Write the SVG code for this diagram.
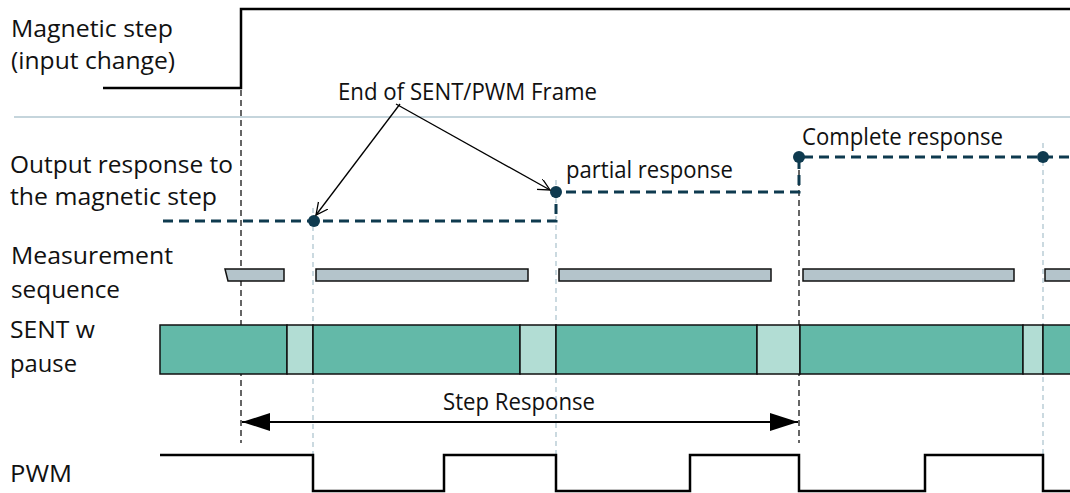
<svg xmlns="http://www.w3.org/2000/svg" width="1070" height="493" viewBox="0 0 1070 493">
<style>
text{font-family:"Open Sans","Liberation Sans",sans-serif;font-size:23px;fill:#111;}
.sig{fill:none;stroke:#000;stroke-width:2.5;}
.resp{fill:none;stroke:#0e3a4f;stroke-width:3;stroke-dasharray:10,6;}
.dot{fill:#0e3a4f;}
.guide{fill:none;stroke:#a9c1cc;stroke-width:1.2;stroke-dasharray:5,4;}
.bguide{fill:none;stroke:#333;stroke-width:1.5;stroke-dasharray:6,4;}
.meas{fill:#b4c4cb;stroke:#111;stroke-width:1.5;}
.sent{fill:#63b9a8;stroke:#111;stroke-width:1.5;}
.pause{fill:#b2ddd4;stroke:#111;stroke-width:1.5;}
</style>
<defs>
<marker id="open" markerUnits="userSpaceOnUse" markerWidth="14" markerHeight="14" refX="12" refY="6" orient="auto">
<path d="M0,0 L12,6 L0,12" fill="none" stroke="#000" stroke-width="1.3"/>
</marker>
<marker id="solid" markerUnits="userSpaceOnUse" markerWidth="30" markerHeight="20" refX="28" refY="9" orient="auto-start-reverse">
<path d="M0,0 L28,9 L0,18 Z" fill="#000"/>
</marker>
</defs>

<line x1="14" y1="117" x2="1070" y2="117" stroke="#c5d5dc" stroke-width="2"/>

<g id="labels">
<text x="11" y="37" textLength="162" lengthAdjust="spacingAndGlyphs">Magnetic step</text>
<text x="11" y="69" textLength="164" lengthAdjust="spacingAndGlyphs">(input change)</text>
<text x="10" y="173" textLength="223" lengthAdjust="spacingAndGlyphs">Output response to</text>
<text x="10" y="205" textLength="207" lengthAdjust="spacingAndGlyphs">the magnetic step</text>
<text x="11" y="264" textLength="162" lengthAdjust="spacingAndGlyphs">Measurement</text>
<text x="11" y="298" textLength="109" lengthAdjust="spacingAndGlyphs">sequence</text>
<text x="10" y="338" textLength="85" lengthAdjust="spacingAndGlyphs">SENT w</text>
<text x="10" y="372" textLength="67" lengthAdjust="spacingAndGlyphs">pause</text>
<text x="10" y="482" textLength="62" lengthAdjust="spacingAndGlyphs">PWM</text>
</g>

<g id="guides">
<line class="bguide" x1="241" y1="90" x2="241" y2="443"/>
<line class="bguide" x1="799" y1="160" x2="799" y2="443"/>
<line class="guide" x1="313" y1="208" x2="313" y2="455"/>
<line class="guide" x1="556" y1="180" x2="556" y2="455"/>
<line class="guide" x1="1043" y1="143" x2="1043" y2="455"/>
</g>

<g id="magnetic-step">
<path class="sig" d="M103,88 H241 V9 H1070"/>
</g>

<g id="output-response">
<path class="resp" d="M163,221 H556 V192 H799 V157 H1070"/>
<circle class="dot" cx="314" cy="221" r="6"/>
<circle class="dot" cx="556" cy="192" r="6"/>
<circle class="dot" cx="799" cy="157" r="6"/>
<circle class="dot" cx="1043" cy="157" r="6"/>
<text x="566" y="178" textLength="167" lengthAdjust="spacingAndGlyphs">partial response</text>
<text x="802" y="145" textLength="201" lengthAdjust="spacingAndGlyphs">Complete response</text>
</g>

<g id="frame-label">
<text x="338" y="100" textLength="259" lengthAdjust="spacingAndGlyphs">End of SENT/PWM Frame</text>
</g>

<g id="measurement-sequence">
<polygon class="meas" points="225,269 284,269 284,281 228,281"/>
<rect class="meas" x="316" y="269" width="212" height="12"/>
<rect class="meas" x="559" y="269" width="212" height="12"/>
<rect class="meas" x="803" y="269" width="211" height="12"/>
<rect class="meas" x="1045" y="269" width="30" height="12"/>
</g>

<g id="sent-pause">
<rect class="sent" x="160" y="325" width="127" height="49"/>
<rect class="pause" x="287" y="325" width="26" height="49"/>
<rect class="sent" x="313" y="325" width="207" height="49"/>
<rect class="pause" x="520" y="325" width="36" height="49"/>
<rect class="sent" x="556" y="325" width="201" height="49"/>
<rect class="pause" x="757" y="325" width="43" height="49"/>
<rect class="sent" x="800" y="325" width="223" height="49"/>
<rect class="pause" x="1023" y="325" width="20" height="49"/>
<rect class="sent" x="1043" y="325" width="40" height="49"/>
</g>

<g id="step-response">
<text x="443" y="410" textLength="152" lengthAdjust="spacingAndGlyphs">Step Response</text>
</g>

<g id="pwm">
<path class="sig" d="M160,455 H313 V491 H444 V455 H556 V491 H690 V455 H799 V491 H925 V455 H1043 V491 H1070"/>
</g>

<g id="connectors">
<line x1="400" y1="104" x2="316" y2="215" stroke="#000" stroke-width="1.3" marker-end="url(#open)"/>
<line x1="396" y1="104" x2="550" y2="190" stroke="#000" stroke-width="1.3" marker-end="url(#open)"/>
<line x1="242" y1="422" x2="798" y2="422" stroke="#000" stroke-width="2" marker-start="url(#solid)" marker-end="url(#solid)"/>
</g>
</svg>
